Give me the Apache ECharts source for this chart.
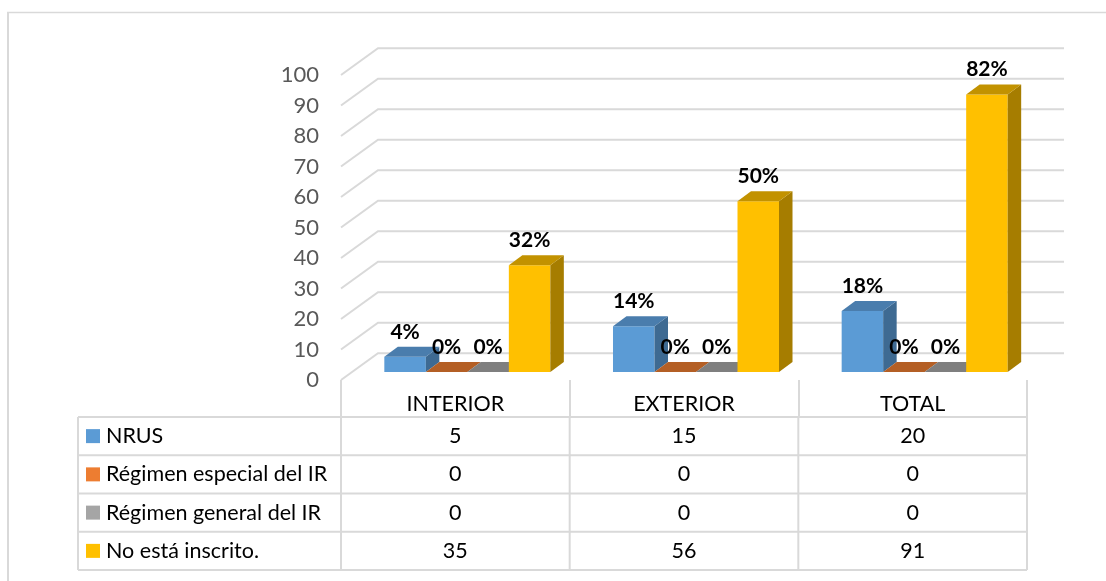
<!DOCTYPE html>
<html><head><meta charset="utf-8">
<script src="https://cdn.jsdelivr.net/npm/echarts@6/dist/echarts.min.js"></script>
<style>html,body{margin:0;padding:0;background:#fff}#c{width:1106px;height:581px}</style>
</head><body><div id="c"></div>
<script>
// ---- data ----
const CATEGORIES = ['INTERIOR', 'EXTERIOR', 'TOTAL'];
const SERIES_NAMES = ['NRUS', 'Régimen especial del IR', 'Régimen general del IR', 'No está inscrito.'];
const NRUS = [5, 15, 20];
const REG_ESPECIAL = [0, 0, 0];
const REG_GENERAL = [0, 0, 0];
const NO_INSCRITO = [35, 56, 91];
const PCT_NRUS = ['4%', '14%', '18%'];
const PCT_ESPECIAL = ['0%', '0%', '0%'];
const PCT_GENERAL = ['0%', '0%', '0%'];
const PCT_NO_INSCRITO = ['32%', '50%', '82%'];
const Y_TICKS = [0, 10, 20, 30, 40, 50, 60, 70, 80, 90, 100];

const VALUES = [NRUS, REG_ESPECIAL, REG_GENERAL, NO_INSCRITO];
const PCTS = [PCT_NRUS, PCT_ESPECIAL, PCT_GENERAL, PCT_NO_INSCRITO];

// ---- styles / layout ----
const FONT = 'Lato, "Noto Sans", sans-serif';
const GRID = { left: 341, top: 75, width: 686, height: 305 };
const WALL = [37, -26.7];       // offset of back wall from front plane
const BAR_OFF = [12, -8];       // offset of bar front plane from front plane
const BAR_DEPTH = [13.5, -10];  // bar depth offset
const BAR_FRAC = 0.1815;        // bar width as fraction of band
const LINE = '#D9D9D9';
const FACES = [
  { front: '#5B9BD5', top: '#4A7DAD', side: '#3E6A92', legend: '#5B9BD5' },
  { front: '#ED7D31', top: '#B45F25', side: '#A0541F', legend: '#ED7D31' },
  { front: '#A5A5A5', top: '#7F7F7F', side: '#6E6E6E', legend: '#A5A5A5' },
  { front: '#FFC000', top: '#C29200', side: '#A67D00', legend: '#FFC000' }
];

const chart = echarts.init(document.getElementById('c'), null, { renderer: 'canvas' });

function gridItem(params, api) {
  const cs = params.coordSys;
  const y = api.coord([0, api.value(1)])[1];
  return {
    type: 'polyline', silent: true,
    shape: { points: [[cs.x, y], [cs.x + WALL[0], y + WALL[1]], [cs.x + cs.width + WALL[0], y + WALL[1]]] },
    style: { stroke: LINE, lineWidth: 2, fill: null }
  };
}

function barItem(s) {
  return function (params, api) {
    const cat = api.value(0), val = api.value(1);
    const top = api.coord([cat, val]), base = api.coord([cat, 0]);
    const band = api.size([1, 0])[0];
    const bw = band * BAR_FRAC;
    const x0 = top[0] - 2 * bw + s * bw + BAR_OFF[0];
    const x1 = x0 + bw;
    const yT = top[1] + BAR_OFF[1], yB = base[1] + BAR_OFF[1];
    const dx = BAR_DEPTH[0], dy = BAR_DEPTH[1];
    const f = FACES[s];
    const children = [];
    if (yB - yT > 0.5) {
      children.push({ type: 'rect', shape: { x: x0, y: yT, width: bw, height: yB - yT }, style: { fill: f.front } });
      children.push({ type: 'polygon', shape: { points: [[x1, yB], [x1, yT], [x1 + dx, yT + dy], [x1 + dx, yB + dy]] }, style: { fill: f.side } });
    }
    children.push({ type: 'polygon', shape: { points: [[x0, yT], [x1, yT], [x1 + dx, yT + dy], [x0 + dx, yT + dy]] }, style: { fill: f.top } });
    children.push({
      type: 'text', z2: 100,
      style: {
        x: (x0 + x1) / 2, y: yT - 25, text: PCTS[s][params.dataIndex],
        font: 'bold 21px ' + FONT, fill: '#000', align: 'center', verticalAlign: 'middle'
      }
    });
    return { type: 'group', children };
  };
}

const series = [{
  type: 'custom', name: 'grid', z: 1, silent: true,
  renderItem: gridItem, clip: false,
  data: Y_TICKS.map(v => [0, v]), encode: { x: 0, y: 1 }
}];
VALUES.forEach((vals, s) => {
  series.push({
    type: 'custom', name: SERIES_NAMES[s], z: 2, clip: false,
    renderItem: barItem(s),
    data: vals.map((v, i) => [i, v]), encode: { x: 0, y: 1 }
  });
});

// ---- data table (graphic) ----
const TABLE_LEFT = 78, ROW_TOP = 417, ROW_H = 38.25;
const colEdges = [0, 1, 2, 3].map(k => GRID.left + k * GRID.width / CATEGORIES.length);
const tableRight = colEdges[colEdges.length - 1];
const tableBottom = ROW_TOP + ROW_H * SERIES_NAMES.length;
const graphics = [];
for (let r = 0; r <= SERIES_NAMES.length; r++) {
  const y = ROW_TOP + r * ROW_H;
  graphics.push({ type: 'line', shape: { x1: TABLE_LEFT, y1: y, x2: tableRight, y2: y }, style: { stroke: LINE, lineWidth: 2 } });
}
[TABLE_LEFT].concat(colEdges).forEach(x => {
  graphics.push({ type: 'line', shape: { x1: x, y1: ROW_TOP, x2: x, y2: tableBottom }, style: { stroke: LINE, lineWidth: 2 } });
});
SERIES_NAMES.forEach((name, r) => {
  const yc = ROW_TOP + (r + 0.5) * ROW_H;
  graphics.push({ type: 'rect', shape: { x: 86, y: yc - 7, width: 14, height: 14 }, style: { fill: FACES[r].legend } });
  graphics.push({ type: 'text', style: { x: 106, y: yc, text: name, font: '21.5px ' + FONT, fill: '#000', verticalAlign: 'middle', align: 'left' } });
  VALUES[r].forEach((v, c) => {
    graphics.push({ type: 'text', style: { x: (colEdges[c] + colEdges[c + 1]) / 2, y: yc, text: String(v), font: '21.5px ' + FONT, fill: '#000', verticalAlign: 'middle', align: 'center' } });
  });
});
// outer chart border
graphics.push({ type: 'line', shape: { x1: 7, y1: 12.5, x2: 1106, y2: 12.5 }, style: { stroke: LINE, lineWidth: 1.5 } });
graphics.push({ type: 'line', shape: { x1: 8, y1: 12, x2: 8, y2: 581 }, style: { stroke: LINE, lineWidth: 2 } });

chart.setOption({
  animation: false,
  backgroundColor: '#fff',
  grid: { left: GRID.left, top: GRID.top, width: GRID.width, height: GRID.height, containLabel: false },
  xAxis: {
    type: 'category', data: CATEGORIES,
    axisLine: { show: false },
    axisTick: { show: true, length: 37, lineStyle: { color: LINE, width: 2 } },
    axisLabel: { fontSize: 21.5, fontFamily: FONT, color: '#000', margin: 13 },
    splitLine: { show: false }
  },
  yAxis: {
    type: 'value', min: 0, max: 100, interval: 10,
    axisLine: { show: false }, axisTick: { show: false }, splitLine: { show: false },
    axisLabel: { fontSize: 22, fontFamily: FONT, color: '#595959', margin: 22 }
  },
  series: series,
  graphic: graphics
});
</script></body></html>
